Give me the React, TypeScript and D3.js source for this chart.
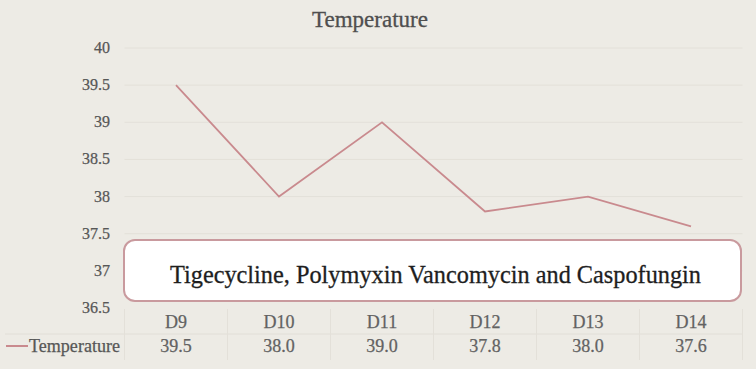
import * as d3 from "d3";
import { useEffect, useRef } from "react";

const days = ["D9", "D10", "D11", "D12", "D13", "D14"];
const temperature = [39.5, 38.0, 39.0, 37.8, 38.0, 37.6];
const yTicks = [36.5, 37, 37.5, 38, 38.5, 39, 39.5, 40];
const seriesName = "Temperature";
const note = "Tigecycline, Polymyxin Vancomycin and Caspofungin";

const W = 756;
const H = 369;
const FONT = "Liberation Serif, Times New Roman, serif";
const LINE = "#c98a8e";

const App = () => {
  const svgRef = useRef<SVGSVGElement>(null);

  useEffect(() => {
    const svg = d3.select(svgRef.current);
    svg.selectAll("*").remove();

    const left = 124.5;
    const right = 742.5;
    const top = 48;
    const bottom = 308;

    const x = d3.scaleBand().domain(days).range([left, right]);
    const y = d3.scaleLinear().domain([36.5, 40]).range([bottom, top]);

    // background
    svg.append("rect").attr("width", W).attr("height", H).attr("fill", "#edebe5");

    // title
    svg
      .append("text")
      .attr("x", 370)
      .attr("y", 27)
      .attr("text-anchor", "middle")
      .attr("font-family", FONT)
      .attr("font-size", 23)
      .attr("fill", "#4f4f4f")
      .attr("stroke", "#4f4f4f")
      .attr("stroke-width", 0.3)
      .text(seriesName);

    // gridlines
    svg
      .selectAll(".grid")
      .data(yTicks.filter((t) => t > 36.5))
      .join("line")
      .attr("class", "grid")
      .attr("x1", left)
      .attr("x2", right)
      .attr("y1", (d) => y(d))
      .attr("y2", (d) => y(d))
      .attr("stroke", "#e3e0d9")
      .attr("stroke-width", 1);

    // y tick labels
    svg
      .selectAll(".ylab")
      .data(yTicks)
      .join("text")
      .attr("class", "ylab")
      .attr("x", 110)
      .attr("y", (d) => y(d) + 5)
      .attr("text-anchor", "end")
      .attr("font-family", FONT)
      .attr("font-size", 16)
      .attr("fill", "#575757")
      .attr("stroke", "#575757")
      .attr("stroke-width", 0.25)
      .text((d) => String(d));

    // data table lines
    const tableTop = 309;
    const rowMid = 334;
    const tableBottom = 360;
    svg
      .append("line")
      .attr("x1", 5)
      .attr("x2", right)
      .attr("y1", rowMid)
      .attr("y2", rowMid)
      .attr("stroke", "#e1ded7");
    svg
      .selectAll(".vsep")
      .data(days.map((d) => x(d) as number).concat([right]))
      .join("line")
      .attr("class", "vsep")
      .attr("x1", (d) => d)
      .attr("x2", (d) => d)
      .attr("y1", tableTop)
      .attr("y2", tableBottom)
      .attr("stroke", "#e3e0d9");

    // category labels
    svg
      .selectAll(".xlab")
      .data(days)
      .join("text")
      .attr("class", "xlab")
      .attr("x", (d) => (x(d) as number) + x.bandwidth() / 2)
      .attr("y", 328)
      .attr("text-anchor", "middle")
      .attr("font-family", FONT)
      .attr("font-size", 18)
      .attr("fill", "#626262")
      .attr("stroke", "#626262")
      .attr("stroke-width", 0.25)
      .text((d) => d);

    // values row
    svg
      .selectAll(".vlab")
      .data(temperature)
      .join("text")
      .attr("class", "vlab")
      .attr("x", (d, i) => (x(days[i]) as number) + x.bandwidth() / 2)
      .attr("y", 352)
      .attr("text-anchor", "middle")
      .attr("font-family", FONT)
      .attr("font-size", 18)
      .attr("fill", "#626262")
      .attr("stroke", "#626262")
      .attr("stroke-width", 0.25)
      .text((d) => d.toFixed(1));

    // legend
    svg
      .append("line")
      .attr("x1", 6)
      .attr("x2", 28)
      .attr("y1", 346)
      .attr("y2", 346)
      .attr("stroke", LINE)
      .attr("stroke-width", 2);
    svg
      .append("text")
      .attr("x", 29)
      .attr("y", 352)
      .attr("font-family", FONT)
      .attr("font-size", 18)
      .attr("fill", "#575757")
      .attr("stroke", "#575757")
      .attr("stroke-width", 0.25)
      .attr("textLength", 91)
      .attr("lengthAdjust", "spacingAndGlyphs")
      .text(seriesName);

    // series line
    const line = d3
      .line<number>()
      .x((d, i) => (x(days[i]) as number) + x.bandwidth() / 2)
      .y((d) => y(d));
    svg
      .append("path")
      .datum(temperature)
      .attr("d", line)
      .attr("fill", "none")
      .attr("stroke", LINE)
      .attr("stroke-width", 1.8);

    // annotation box
    svg
      .append("rect")
      .attr("x", 124)
      .attr("y", 240)
      .attr("width", 617)
      .attr("height", 61)
      .attr("rx", 11)
      .attr("fill", "#fff")
      .attr("stroke", "#c99a9e")
      .attr("stroke-width", 2);
    svg
      .append("text")
      .attr("x", 170)
      .attr("y", 283)
      .attr("font-family", FONT)
      .attr("font-size", 25)
      .attr("fill", "#1e1e1e")
      .attr("stroke", "#1e1e1e")
      .attr("stroke-width", 0.3)
      .attr("textLength", 531)
      .attr("lengthAdjust", "spacingAndGlyphs")
      .text(note);
  }, []);

  return (
    <div style={{ position: "absolute", left: 0, top: 0 }}>
      <svg ref={svgRef} width={W} height={H} style={{ display: "block" }} />
    </div>
  );
};

export default App;
